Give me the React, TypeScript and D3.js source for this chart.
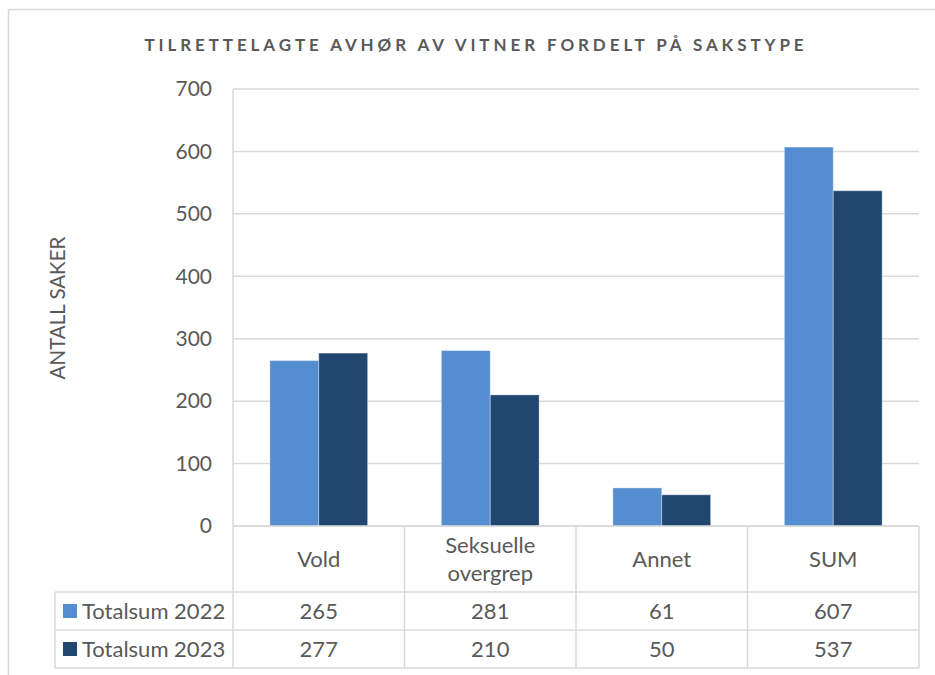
import { useMemo } from 'react'
import * as d3 from 'd3'

const categories = ['Vold', 'Seksuelle overgrep', 'Annet', 'SUM']
const categoryLines = [['Vold'], ['Seksuelle', 'overgrep'], ['Annet'], ['SUM']]
const series = ['Totalsum 2022', 'Totalsum 2023']
const values2022 = [265, 281, 61, 607]
const values2023 = [277, 210, 50, 537]
const yTicks = [0, 100, 200, 300, 400, 500, 600, 700]
const colors = ['#558ED0', '#21466F']

const W = 935
const H = 675
const PLOT = { left: 233, right: 919, top: 89, bottom: 526 }
const TABLE = { legendLeft: 55, catBottom: 592, row1Bottom: 630, row2Bottom: 668 }
const TEXT = '#595959'
const GRID = '#D9D9D9'
const FONT = 'Lato, "Open Sans", sans-serif'
const CELL_FONT = 22

export default function App() {
  const rows = useMemo(() => [values2022, values2023], [])

  const x = d3.scaleBand<string>()
    .domain(categories)
    .range([PLOT.left, PLOT.right])

  const y = d3.scaleLinear()
    .domain([0, 700])
    .range([PLOT.bottom, PLOT.top])

  const bw = x.bandwidth()
  const barW = bw * 0.285
  const barOffset = bw * 0.215

  const rowBounds = [
    [TABLE.catBottom, TABLE.row1Bottom],
    [TABLE.row1Bottom, TABLE.row2Bottom],
  ]

  return (
    <svg
      width={W}
      height={H}
      style={{ position: 'absolute', left: 0, top: 0, background: '#fff' }}
      fontFamily={FONT}
    >
      {/* frame */}
      <rect x={8.5} y={9.5} width={940} height={700} fill="none" stroke={GRID} strokeWidth={1.5} />

      {/* title */}
      <text
        x={476}
        y={51}
        textAnchor="middle"
        fontSize={17}
        fontWeight="bold"
        letterSpacing={3.9}
        fill={TEXT}
      >
        TILRETTELAGTE AVHØR AV VITNER FORDELT PÅ SAKSTYPE
      </text>

      {/* y axis title */}
      <text
        transform={`translate(65, 308) rotate(-90)`}
        textAnchor="middle"
        fontSize={20.5}
        fill={TEXT}
      >
        ANTALL SAKER
      </text>

      {/* grid lines */}
      {yTicks.map(t => (
        <line
          key={t}
          x1={PLOT.left}
          x2={PLOT.right}
          y1={y(t)}
          y2={y(t)}
          stroke={GRID}
          strokeWidth={1.5}
        />
      ))}

      {/* y tick labels */}
      {yTicks.map(t => (
        <text
          key={t}
          x={212}
          y={y(t)}
          dy="0.35em"
          textAnchor="end"
          fontSize={21}
          fill={TEXT}
        >
          {t}
        </text>
      ))}

      {/* left axis line */}
      <line x1={PLOT.left} x2={PLOT.left} y1={PLOT.top} y2={TABLE.row2Bottom} stroke={GRID} strokeWidth={1.5} />

      {/* bars */}
      {categories.map((c, i) => (
        <g key={c}>
          {rows.map((vals, s) => (
            <rect
              key={s}
              x={(x(c) ?? 0) + barOffset + s * barW}
              y={y(vals[i])}
              width={barW}
              height={y(0) - y(vals[i])}
              fill={colors[s]}
              stroke="#ffffff"
              strokeOpacity={0.35}
              strokeWidth={1}
            />
          ))}
        </g>
      ))}

      {/* data table */}
      <line x1={PLOT.left} x2={PLOT.right} y1={PLOT.bottom} y2={PLOT.bottom} stroke={GRID} strokeWidth={1.5} />
      {[TABLE.catBottom, TABLE.row1Bottom, TABLE.row2Bottom].map(yy => (
        <line key={yy} x1={TABLE.legendLeft} x2={PLOT.right} y1={yy} y2={yy} stroke={GRID} strokeWidth={1.5} />
      ))}
      <line x1={TABLE.legendLeft} x2={TABLE.legendLeft} y1={TABLE.catBottom} y2={TABLE.row2Bottom} stroke={GRID} strokeWidth={1.5} />
      {categories.map(c => (
        <line
          key={c}
          x1={(x(c) ?? 0) + bw}
          x2={(x(c) ?? 0) + bw}
          y1={PLOT.bottom}
          y2={TABLE.row2Bottom}
          stroke={GRID}
          strokeWidth={1.5}
        />
      ))}

      {/* category labels */}
      {categories.map((c, i) => {
        const lines = categoryLines[i]
        const cy = (PLOT.bottom + TABLE.catBottom) / 2
        const lh = 28
        return (
          <text
            key={c}
            x={(x(c) ?? 0) + bw / 2}
            textAnchor="middle"
            fontSize={CELL_FONT}
            fill={TEXT}
          >
            {lines.map((l, j) => (
              <tspan
                key={j}
                x={(x(c) ?? 0) + bw / 2}
                y={cy + (j - (lines.length - 1) / 2) * lh}
                dy="0.35em"
              >
                {l}
              </tspan>
            ))}
          </text>
        )
      })}

      {/* legend + values rows */}
      {series.map((name, s) => {
        const [top, bottom] = rowBounds[s]
        const cy = (top + bottom) / 2
        return (
          <g key={name}>
            <rect x={63} y={cy - 7} width={14} height={14} fill={colors[s]} />
            <text x={82} y={cy} dy="0.35em" fontSize={CELL_FONT} fill={TEXT}>
              {name}
            </text>
            {categories.map((c, i) => (
              <text
                key={c}
                x={(x(c) ?? 0) + bw / 2}
                y={cy}
                dy="0.35em"
                textAnchor="middle"
                fontSize={CELL_FONT}
                fill={TEXT}
              >
                {rows[s][i]}
              </text>
            ))}
          </g>
        )
      })}
    </svg>
  )
}
